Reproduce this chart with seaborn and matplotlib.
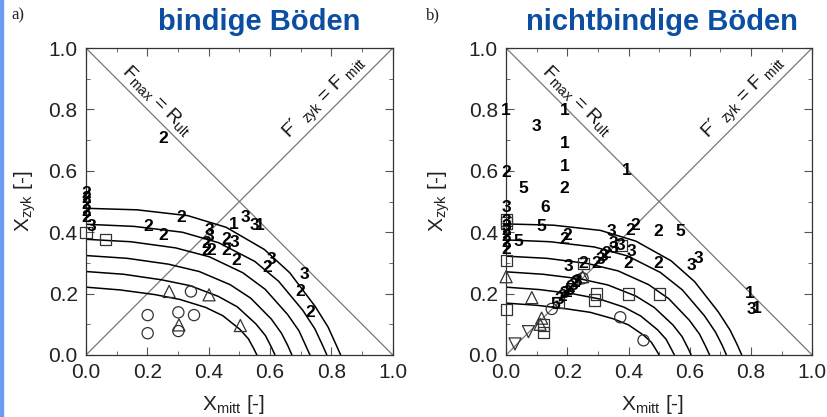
import numpy as np
import pandas as pd
import matplotlib
matplotlib.use("Agg")
import matplotlib.pyplot as plt
import seaborn as sns
from matplotlib.ticker import MultipleLocator

sns.set_style("ticks")
plt.rcParams["font.family"] = ["Liberation Sans", "DejaVu Sans"]
plt.rcParams["mathtext.fontset"] = "custom"
plt.rcParams["mathtext.rm"] = "Liberation Sans"

# ---- contour curves, panel a ----
a_curve_x = [
    [0, 0.166, 0.332, 0.457, 0.581, 0.664, 0.747, 0.789, 0.813, 0.830],
    [0, 0.157, 0.314, 0.432, 0.550, 0.628, 0.707, 0.746, 0.769, 0.785],
    [0, 0.146, 0.292, 0.402, 0.511, 0.584, 0.657, 0.694, 0.715, 0.730],
    [0, 0.134, 0.268, 0.369, 0.470, 0.537, 0.604, 0.637, 0.658, 0.671],
    [0, 0.123, 0.246, 0.339, 0.431, 0.493, 0.554, 0.585, 0.604, 0.616],
    [0, 0.111, 0.223, 0.306, 0.390, 0.446, 0.501, 0.529, 0.546, 0.557],
]
a_curve_y = [
    [0.478, 0.473, 0.454, 0.416, 0.344, 0.268, 0.158, 0.091, 0.038, 0],
    [0.426, 0.419, 0.400, 0.366, 0.305, 0.240, 0.145, 0.085, 0.036, 0],
    [0.377, 0.369, 0.349, 0.320, 0.268, 0.214, 0.132, 0.079, 0.033, 0],
    [0.324, 0.315, 0.296, 0.272, 0.229, 0.185, 0.117, 0.071, 0.030, 0],
    [0.272, 0.263, 0.245, 0.226, 0.191, 0.157, 0.101, 0.063, 0.026, 0],
    [0.221, 0.212, 0.197, 0.181, 0.155, 0.128, 0.084, 0.053, 0.022, 0],
]

# ---- contour curves, panel b ----
b_curve_x = [
    [0, 0.154, 0.308, 0.424, 0.539, 0.616, 0.693, 0.732, 0.755, 0.770],
    [0, 0.144, 0.288, 0.396, 0.504, 0.576, 0.648, 0.684, 0.706, 0.720],
    [0, 0.133, 0.266, 0.366, 0.466, 0.532, 0.599, 0.632, 0.652, 0.665],
    [0, 0.121, 0.242, 0.333, 0.424, 0.484, 0.545, 0.575, 0.593, 0.605],
    [0, 0.110, 0.220, 0.303, 0.385, 0.440, 0.495, 0.523, 0.539, 0.550],
    [0, 0.100, 0.200, 0.275, 0.350, 0.400, 0.450, 0.475, 0.490, 0.500],
]
b_curve_y = [
    [0.427, 0.423, 0.406, 0.371, 0.307, 0.239, 0.141, 0.081, 0.034, 0],
    [0.375, 0.369, 0.352, 0.323, 0.269, 0.212, 0.128, 0.075, 0.032, 0],
    [0.322, 0.315, 0.298, 0.274, 0.229, 0.183, 0.113, 0.068, 0.028, 0],
    [0.271, 0.263, 0.248, 0.228, 0.192, 0.155, 0.098, 0.060, 0.025, 0],
    [0.221, 0.213, 0.199, 0.183, 0.156, 0.127, 0.082, 0.051, 0.021, 0],
    [0.169, 0.162, 0.150, 0.139, 0.118, 0.098, 0.064, 0.041, 0.017, 0],
]

# ---- numbered test points ----
a_num_x = [0, 0, 0, 0, 0, 0.019, 0.252, 0.312, 0.203, 0.252, 0.483, 0.521, 0.548, 0.567,
           0.402, 0.402, 0.393, 0.409, 0.391, 0.458, 0.485, 0.458, 0.491, 0.605, 0.590,
           0.711, 0.698, 0.730]
a_num_y = [0.527, 0.511, 0.489, 0.467, 0.449, 0.418, 0.706, 0.448, 0.418, 0.389, 0.426, 0.448, 0.422, 0.422,
           0.407, 0.385, 0.364, 0.342, 0.342, 0.375, 0.366, 0.342, 0.307, 0.310, 0.285,
           0.263, 0.207, 0.139]
a_num_lab = ["2", "2", "2", "2", "2", "3", "2", "2", "2", "2", "1", "3", "3", "1",
             "3", "3", "2", "2", "2", "2", "3", "2", "2", "3", "2",
             "3", "2", "2"]

b_num_x = [0, 0.19, 0.098, 0.19, 0, 0.19, 0.394, 0.057, 0.19,
           0, 0.127, 0.116, 0.20, 0.19, 0.04,
           0, 0, 0, 0, 0, 0,
           0.345, 0.405, 0.422, 0.351, 0.373, 0.41, 0.40, 0.498, 0.569, 0.498, 0.607, 0.628,
           0.296, 0.307, 0.317, 0.328, 0.35, 0.203, 0.252,
           0.16, 0.175, 0.185, 0.19, 0.20, 0.205, 0.21, 0.22, 0.225, 0.232,
           0.796, 0.801, 0.82]
b_num_y = [0.798, 0.798, 0.746, 0.69, 0.594, 0.613, 0.60, 0.543, 0.541,
           0.48, 0.48, 0.418, 0.39, 0.375, 0.369,
           0.434, 0.42, 0.405, 0.385, 0.365, 0.345,
           0.402, 0.407, 0.423, 0.364, 0.358, 0.336, 0.298, 0.402, 0.402, 0.298, 0.293, 0.315,
           0.299, 0.31, 0.321, 0.332, 0.348, 0.288, 0.299,
           0.165, 0.18, 0.19, 0.20, 0.205, 0.21, 0.22, 0.225, 0.235, 0.24,
           0.201, 0.147, 0.152]
b_num_lab = ["1", "1", "3", "1", "2", "1", "1", "5", "2",
             "3", "6", "5", "2", "2", "5",
             "3", "3", "2", "2", "2", "2",
             "3", "2", "2", "3", "3", "3", "2", "2", "5", "2", "3", "3",
             "2", "3", "3", "2", "3", "3", "2",
             "5", "3", "2", "3", "2", "5", "2", "3", "2", "3",
             "1", "3", "1"]

# ---- symbol points ----
a_sq_x = [0, 0.064]
a_sq_y = [0.398, 0.375]
a_tri_x = [0.271, 0.401, 0.303, 0.503]
a_tri_y = [0.207, 0.196, 0.098, 0.096]
a_circ_x = [0.342, 0.201, 0.301, 0.352, 0.201, 0.301]
a_circ_y = [0.207, 0.130, 0.139, 0.130, 0.071, 0.078]
a_tdn_x, a_tdn_y = [], []

b_sq_x = [0, 0, 0, 0, 0.252, 0.378, 0.296, 0.29, 0.399, 0.5, 0.171, 0.122, 0.122]
b_sq_y = [0.44, 0.43, 0.309, 0.147, 0.299, 0.358, 0.199, 0.179, 0.199, 0.199, 0.17, 0.098, 0.074]
b_tri_x = [0, 0.084, 0.116, 0.111, 0.25]
b_tri_y = [0.255, 0.187, 0.12, 0.10, 0.255]
b_circ_x = [0.149, 0.373, 0.449, 0.25]
b_circ_y = [0.15, 0.123, 0.048, 0.25]
b_tdn_x = [0.029, 0.073]
b_tdn_y = [0.036, 0.076]

panels = [
    dict(cx=a_curve_x, cy=a_curve_y, nx=a_num_x, ny=a_num_y, nl=a_num_lab,
         sq=(a_sq_x, a_sq_y), tri=(a_tri_x, a_tri_y), circ=(a_circ_x, a_circ_y),
         tdn=(a_tdn_x, a_tdn_y), title="bindige Böden", tag="a)",
         rect=[0.104, 0.1487, 0.371, 0.736], ylab=-0.155, tx=0.313, tagx=0.014),
    dict(cx=b_curve_x, cy=b_curve_y, nx=b_num_x, ny=b_num_y, nl=b_num_lab,
         sq=(b_sq_x, b_sq_y), tri=(b_tri_x, b_tri_y), circ=(b_circ_x, b_circ_y),
         tdn=(b_tdn_x, b_tdn_y), title="nichtbindige Böden", tag="b)",
         rect=[0.612, 0.1487, 0.370, 0.736], ylab=-0.178, tx=0.80, tagx=0.515),
]

fig = plt.figure(figsize=(8.27, 4.17), dpi=100)
fig.patches.append(plt.Rectangle((0, 0), 0.0042, 1, transform=fig.transFigure,
                                 color="#6d9af2", zorder=0))

edge = "#333333"
for p in panels:
    ax = fig.add_axes(p["rect"])

    # reference diagonals
    ax.axline((0, 1), slope=-1, color="#777777", lw=0.9, zorder=1)
    ax.axline((0, 0), slope=1, color="#777777", lw=0.9, zorder=1)

    rows = []
    for i, (xs, ys) in enumerate(zip(p["cx"], p["cy"])):
        for x, y in zip(xs, ys):
            rows.append((i, x, y))
    cdf = pd.DataFrame(rows, columns=["curve", "x", "y"])
    sns.lineplot(data=cdf, x="x", y="y", units="curve", estimator=None, sort=False,
                 color="black", lw=1.1, ax=ax, zorder=2)

    for key, mk, sz in [("sq", "s", 65), ("tri", "^", 75), ("circ", "o", 65), ("tdn", "v", 75)]:
        xs, ys = p[key]
        if len(xs):
            sns.scatterplot(x=xs, y=ys, marker=mk, s=sz, facecolor="none",
                            edgecolor=edge, linewidth=0.9, ax=ax, zorder=3, clip_on=False)

    for x, y, t in zip(p["nx"], p["ny"], p["nl"]):
        ax.text(x, y, t, ha="center", va="center", fontsize=12.5, fontweight="bold",
                color="black", zorder=4)

    ax.text(0.231, 0.827, r"F$_{\mathregular{max}}$ = R$_{\mathregular{ult}}$",
            rotation=-45, ha="center", va="center", fontsize=14, color="#111111",
            rotation_mode="anchor")
    ax.text(0.778, 0.837, r"F´ $_{\mathregular{zyk}}$ = F $_{\mathregular{mitt}}$",
            rotation=45, ha="center", va="center", fontsize=14, color="#111111",
            rotation_mode="anchor")

    ax.set_xlim(0, 1)
    ax.set_ylim(0, 1)
    ax.xaxis.set_major_locator(MultipleLocator(0.2))
    ax.yaxis.set_major_locator(MultipleLocator(0.2))
    ax.xaxis.set_minor_locator(MultipleLocator(0.1))
    ax.yaxis.set_minor_locator(MultipleLocator(0.1))
    ax.xaxis.set_major_formatter(matplotlib.ticker.FormatStrFormatter("%.1f"))
    ax.yaxis.set_major_formatter(matplotlib.ticker.FormatStrFormatter("%.1f"))
    ax.tick_params(which="both", direction="in", top=True, right=True,
                   labelsize=15, labelcolor="#222222", color="#555555")
    ax.tick_params(which="major", length=6, pad=6)
    ax.tick_params(which="minor", length=3)
    for s in ax.spines.values():
        s.set_color("#333333")
        s.set_linewidth(0.9)

    ax.set_xlabel(r"X$_{\mathregular{mitt}}$ [-]", fontsize=15, color="#222222")
    ax.set_ylabel(r"X$_{\mathregular{zyk}}$ [-]", fontsize=15, color="#222222")
    ax.xaxis.set_label_coords(0.48, -0.125)
    ax.yaxis.set_label_coords(p["ylab"], 0.5)

    fig.text(p["tx"], 0.947, p["title"], ha="center", va="center", fontsize=21,
             fontweight="bold", color="#0b4ea2")
    fig.text(p["tagx"], 0.962, p["tag"], ha="left", va="center", fontsize=12,
             family=["Liberation Serif", "DejaVu Serif"], color="#222222")

fig.savefig("out.png", dpi=100)
